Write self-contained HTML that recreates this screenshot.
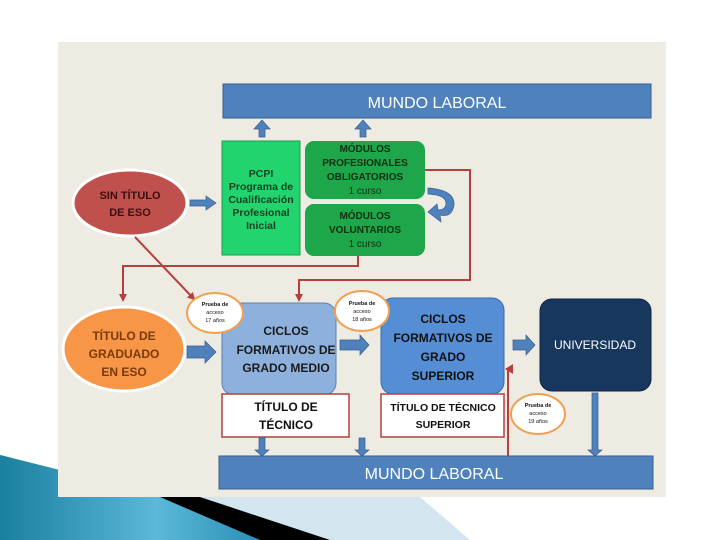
<!DOCTYPE html>
<html><head><meta charset="utf-8"><style>body{margin:0;background:#fff}svg{display:block}text{font-family:"Liberation Sans",sans-serif;font-weight:bold;text-anchor:middle}</style></head><body>
<svg width="720" height="540" viewBox="0 0 720 540" xmlns="http://www.w3.org/2000/svg">
<defs>
<marker id="ra" markerWidth="8" markerHeight="8" refX="6" refY="4" orient="auto" markerUnits="userSpaceOnUse"><path d="M0,0 L8,4 L0,8 Z" fill="#b5403d"/></marker>
<linearGradient id="sw" x1="0" y1="0" x2="1" y2="0"><stop offset="0" stop-color="#1a7fa0"/><stop offset="0.6" stop-color="#5bb8d8"/><stop offset="1" stop-color="#2a90b5"/></linearGradient>
</defs>
<!-- swoosh (behind) -->
<polygon points="170,497 420,497 470,540 300,540" fill="#d3e6ef"/>
<polygon points="0,455 160,497 200,497 330,540 260,540" fill="#000"/>
<polygon points="0,455 60,470 135,497 160,497 260,540 0,540" fill="url(#sw)"/>
<rect x="58" y="42" width="608" height="455" fill="#eeebe3"/>
<!-- top mundo laboral -->
<rect x="223" y="84" width="428" height="34" fill="#4f81bd" stroke="#385d8a"/>
<text x="437" y="108" font-size="16" fill="#fff" style="font-weight:normal">MUNDO LABORAL</text>
<g fill="#4f81bd" stroke="#385d8a" stroke-width="0.7">
<path d="M259,137 h6 v-8 h5 l-8,-9 l-8,9 h5z"/>
<path d="M360,137 h6 v-8 h5 l-8,-9 l-8,9 h5z"/>
</g>
<rect x="222" y="141" width="78" height="114" fill="#22d46e" stroke="#1e9b50"/>
<text font-size="10.5" fill="#1b3d1f"><tspan x="261" y="177">PCPI</tspan><tspan x="261" y="190">Programa de</tspan><tspan x="261" y="203">Cualificación</tspan><tspan x="261" y="216">Profesional</tspan><tspan x="261" y="229">Inicial</tspan></text>
<rect x="305" y="141" width="120" height="58" rx="9" fill="#1ea64b"/>
<text font-size="10" fill="#10300f"><tspan x="365" y="152">MÓDULOS</tspan><tspan x="365" y="166">PROFESIONALES</tspan><tspan x="365" y="180">OBLIGATORIOS</tspan><tspan x="365" y="194" style="font-weight:normal">1 curso</tspan></text>
<rect x="305" y="204" width="120" height="52" rx="9" fill="#1ea64b"/>
<text font-size="10" fill="#10300f"><tspan x="365" y="219">MÓDULOS</tspan><tspan x="365" y="233">VOLUNTARIOS</tspan><tspan x="365" y="247" style="font-weight:normal">1 curso</tspan></text>
<path d="M428,188 Q455,190 454,205 Q452,218 440,215 L441,222 L428,212 L437,204 L438,210 Q446,210 446,203 Q446,195 428,194 Z" fill="#4f81bd" stroke="#385d8a" stroke-width="0.7"/>
<ellipse cx="130" cy="203" rx="57" ry="33" fill="#c0504d" stroke="#fff" stroke-width="3"/>
<text font-size="11" fill="#3a1010"><tspan x="130" y="199">SIN TÍTULO</tspan><tspan x="130" y="216">DE ESO</tspan></text>
<path d="M190,200 h16 v-4 l10,7 l-10,7 v-4 h-16z" fill="#4f81bd" stroke="#385d8a" stroke-width="0.7"/>
<g stroke="#b5403d" stroke-width="2" fill="none">
<polyline points="425,170 470,170 470,280 299,280 299,300" marker-end="url(#ra)"/>
<polyline points="358,256 358,266 123,266 123,300" marker-end="url(#ra)"/>
<line x1="135" y1="237" x2="194" y2="299" marker-end="url(#ra)"/>
<polyline points="508,456 508,369 506,369"/>
</g>
<path d="M505,369 l8,-5 v10z" fill="#b5403d"/>
<ellipse cx="124" cy="349" rx="61" ry="42" fill="#f79646" stroke="#fff" stroke-width="3"/>
<text font-size="12" fill="#7a3a0a"><tspan x="124" y="340">TÍTULO DE</tspan><tspan x="124" y="358">GRADUADO</tspan><tspan x="124" y="376">EN ESO</tspan></text>
<path d="M187,346 h18 v-5 l11,11 l-11,11 v-5 h-18z" fill="#4f81bd" stroke="#385d8a" stroke-width="0.7"/>
<rect x="222" y="303" width="114" height="92" rx="12" fill="#8eb0dc" stroke="#5b7fb0"/>
<text font-size="12" fill="#1a1a1a"><tspan x="286" y="335">CICLOS</tspan><tspan x="286" y="354">FORMATIVOS DE</tspan><tspan x="286" y="372">GRADO MEDIO</tspan></text>
<path d="M340,340 h20 v-5 l9,10 l-9,10 v-5 h-20z" fill="#4f81bd" stroke="#385d8a" stroke-width="0.7"/>
<rect x="381" y="298" width="123" height="96" rx="12" fill="#558ed5" stroke="#3d6aa8"/>
<text font-size="12" fill="#111"><tspan x="443" y="323">CICLOS</tspan><tspan x="443" y="342">FORMATIVOS DE</tspan><tspan x="443" y="361">GRADO</tspan><tspan x="443" y="380">SUPERIOR</tspan></text>
<path d="M513,340 h13 v-5 l9,10 l-9,10 v-5 h-13z" fill="#4f81bd" stroke="#385d8a" stroke-width="0.7"/>
<rect x="540" y="299" width="111" height="92" rx="12" fill="#17375e" stroke="#0f2440"/>
<text x="595" y="349" font-size="12" fill="#fff" style="font-weight:normal">UNIVERSIDAD</text>
<rect x="222" y="394" width="127" height="43" fill="#fff" stroke="#b5403d" stroke-width="1.5"/>
<text font-size="12" fill="#111"><tspan x="286" y="411">TÍTULO DE</tspan><tspan x="286" y="429">TÉCNICO</tspan></text>
<rect x="381" y="394" width="123" height="43" fill="#fff" stroke="#b5403d" stroke-width="1.5"/>
<text font-size="10.5" fill="#111"><tspan x="443" y="411">TÍTULO DE TÉCNICO</tspan><tspan x="443" y="428">SUPERIOR</tspan></text>
<g fill="#4f81bd" stroke="#385d8a" stroke-width="0.7">
<path d="M259,438 h6 v12 h4 l-7,6 l-7,-6 h4z"/>
<path d="M359,438 h6 v12 h4 l-7,6 l-7,-6 h4z"/>
<path d="M592,393 h6 v57 h4 l-7,6 l-7,-6 h4z"/>
</g>
<rect x="219" y="456" width="434" height="33" fill="#4f81bd" stroke="#385d8a"/>
<text x="434" y="479" font-size="16" fill="#fff" style="font-weight:normal">MUNDO LABORAL</text>
<g fill="#fff" stroke="#f0a050" stroke-width="2">
<ellipse cx="215" cy="313" rx="28" ry="20"/>
<ellipse cx="362" cy="311" rx="27" ry="20"/>
<ellipse cx="538" cy="414" rx="27" ry="20"/>
</g>
<g font-size="5.5" fill="#111">
<text><tspan x="215" y="306">Prueba de</tspan><tspan x="215" y="314" style="font-weight:normal">acceso</tspan><tspan x="215" y="322" style="font-weight:normal">17 años</tspan></text>
<text><tspan x="362" y="305">Prueba de</tspan><tspan x="362" y="313" style="font-weight:normal">acceso</tspan><tspan x="362" y="321" style="font-weight:normal">18 años</tspan></text>
<text><tspan x="538" y="407">Prueba de</tspan><tspan x="538" y="415" style="font-weight:normal">acceso</tspan><tspan x="538" y="423" style="font-weight:normal">19 años</tspan></text>
</g>
</svg>
</body></html>
